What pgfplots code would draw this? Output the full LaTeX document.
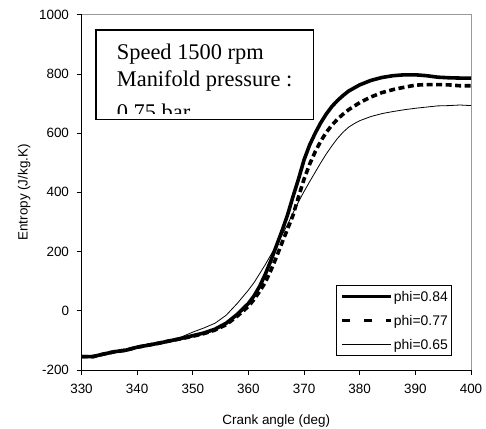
\documentclass[border=0pt]{standalone}
\usepackage{fontspec}
\setmainfont{Liberation Sans}
\newfontfamily\timesfont{Liberation Serif}
\usepackage{pgfplots}
\pgfplotsset{compat=1.18}

\newcommand{\tickfont}{\fontsize{13.5}{16}\selectfont}

\begin{document}
\begin{tikzpicture}[x=1bp,y=1bp]
\useasboundingbox (0,0) rectangle (486,428);
\begin{axis}[
  scale only axis, width=389.5bp, height=355.3bp,
  at={(81.5bp,58bp)}, anchor=south west,
  xmin=330, xmax=400, ymin=-200, ymax=1000,
  xtick={330,340,...,400}, ytick={-200,0,...,1000},
  axis x line*=bottom, axis y line*=left,
  axis line style={-, black, line width=0.9bp},
  tick align=outside, major tick length=5bp,
  tick style={black, line width=0.8bp},
  tick label style={font=\tickfont},
  xticklabel style={yshift=-6bp},
  yticklabel style={xshift=-4bp},
  /pgf/number format/assume math mode=true,
  /pgf/number format/1000 sep={},
  xlabel={Crank angle (deg)}, ylabel={Entropy (J/kg.K)},
  every axis x label/.style={at={(axis description cs:0.5,-0.143)}, anchor=center, font=\tickfont},
  every axis y label/.style={at={(axis description cs:-0.147,0.5)}, rotate=90, anchor=center, font=\tickfont},
  legend style={at={(rel axis cs:0.653,0.239)}, anchor=north west, draw=black, line width=0.9bp,
                font=\fontsize{14}{16}\selectfont, cells={anchor=west},
                nodes={inner sep=0pt, text depth=0pt},
                inner xsep=4bp, inner ysep=6bp, row sep=14bp, column sep=1bp},
  clip=false,
]
\draw[gray!80, line width=0.9bp] (rel axis cs:0,1) -- (rel axis cs:1,1) -- (rel axis cs:1,0);

% phi = 0.84
\addplot[black, line width=3.6bp, line join=round,
  legend image code/.code={\draw[black, line width=3.6bp] (0bp,0bp) -- (49bp,0bp);}]
coordinates {
(330,-155)(332,-155)(334,-146)(336,-138)(338,-133)(340,-123)(342,-116)(344,-109)(346,-101)
(348,-93)(350,-84)(352,-75)(354,-62)(356,-42)(358,-12)(360,25)(361,50)(362,82)(363,122)
(364,168)(365,218)(366,268)(367,322)(368,385)(369,445)(370,510)(371,560)(372,600)(373,635)
(374,665)(375,690)(376,710)(377,727)(378,742)(380,763)(382,778)(384,788)(386,794)(388,797)
(390,797)(392,794)(394,789)(396,787)(398,786)(400,786)};
\addlegendentry{phi=0.84}

% phi = 0.77
\addplot[black, line width=3.6bp, dash pattern=on 6bp off 3.5bp,
  legend image code/.code={\draw[black, line width=3.6bp, dash pattern=on 8bp off 14bp] (0bp,0bp) -- (49bp,0bp);}]
coordinates {
(330,-155)(332,-155)(334,-146)(336,-138)(338,-133)(340,-123)(342,-116)(344,-109)(346,-101)
(348,-94)(350,-86)(352,-77)(354,-65)(356,-47)(358,-18)(360,15)(361,38)(362,65)(363,95)
(364,135)(365,180)(366,228)(367,275)(368,322)(369,385)(370,445)(371,495)(372,537)(373,573)
(374,603)(375,627)(376,647)(377,664)(378,679)(380,703)(382,722)(384,737)(386,747)(388,755)
(390,762)(392,764)(394,764)(396,763)(398,760)(400,760)};
\addlegendentry{phi=0.77}

% phi = 0.65
\addplot[black, line width=0.8bp,
  legend image code/.code={\draw[black, line width=0.8bp] (0bp,0bp) -- (49bp,0bp);}]
coordinates {
(330,-155)(334,-146)(338,-132)(342,-116)(346,-101)(348,-88)(350,-72)(352,-58)(354,-42)
(356,-15)(358,25)(360,70)(361,95)(362,125)(363,155)(364,188)(365,220)(366,255)(367,290)
(368,330)(369,368)(370,403)(371,436)(372,468)(373,500)(374,530)(375,557)(376,582)(377,603)
(378,620)(379,632)(380,642)(382,656)(384,666)(386,673)(388,679)(390,684)(392,688)(394,692)
(396,693)(398,695)(400,693)};
\addlegendentry{phi=0.65}
\end{axis}

% text box
\begin{scope}
  \clip (96,314.7) rectangle (313.3,398);
  \node[anchor=base west, inner sep=0pt, font=\timesfont\fontsize{22.5}{27}\selectfont] at (116.7,368.7) {Speed 1500 rpm};
  \node[anchor=base west, inner sep=0pt, font=\timesfont\fontsize{22.5}{27}\selectfont] at (116.7,341.3) {Manifold pressure :};
  \node[anchor=base west, inner sep=0pt, font=\timesfont\fontsize{22.5}{27}\selectfont] at (116.7,309) {0.75 bar};
\end{scope}
\draw[black, line width=1.6bp] (96,308.7) rectangle (313.3,398);
\end{tikzpicture}
\end{document}
